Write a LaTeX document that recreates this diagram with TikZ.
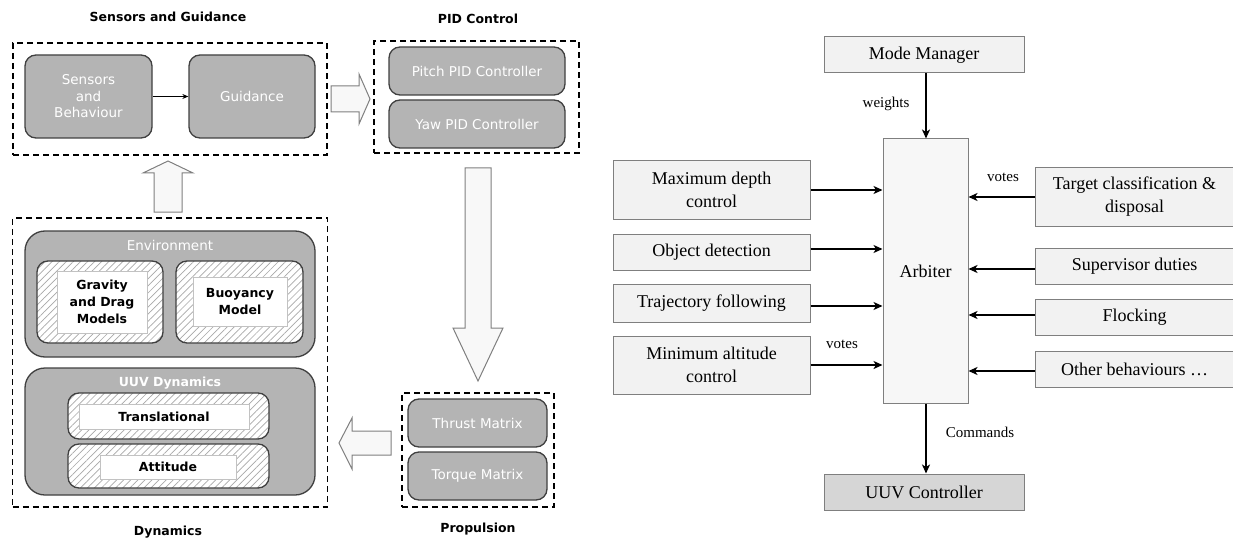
\documentclass[tikz,border=0pt]{standalone}
\usepackage{fontspec}
\setmainfont{Liberation Serif}
\newfontfamily\vsans{DejaVu Sans}
\usetikzlibrary{patterns.meta,arrows.meta}

\definecolor{boxgray}{HTML}{B4B4B4}
\definecolor{edgegray}{HTML}{404040}
\definecolor{paleface}{HTML}{F2F2F2}
\definecolor{arbface}{HTML}{F7F7F7}
\definecolor{ctrlface}{HTML}{D6D6D6}
\definecolor{rimgray}{HTML}{7F7F7F}
\definecolor{hatchgray}{HTML}{A8A8A8}
\definecolor{fatface}{HTML}{F8F8F8}

\begin{document}
\begin{tikzpicture}[x=1pt,y=-1pt,
  grp/.style={draw=black, line width=1.8pt, dash pattern=on 6pt off 4pt, inner sep=0},
  blk/.style={draw=edgegray, fill=boxgray, line width=1.3pt, rounded corners=11pt,
    text=white, font=\vsans\fontsize{13.5}{16.5}\selectfont, align=center, inner sep=0},
  panel/.style={blk, rounded corners=20pt},
  hatch/.style={draw=edgegray, line width=1.3pt, rounded corners=11pt, inner sep=0,
    preaction={fill=white},
    pattern={Lines[angle=45,distance=5pt,line width=0.7pt]}, pattern color=hatchgray},
  card/.style={draw=hatchgray!70, fill=white, line width=0.8pt, inner sep=0,
    font=\vsans\bfseries\fontsize{12.5}{17}\selectfont, align=center},
  ttl/.style={font=\vsans\bfseries\fontsize{12.5}{15}\selectfont},
  fat/.style={draw=rimgray, fill=fatface, line width=1pt, line join=miter},
  sbox/.style={draw=rimgray, fill=paleface, line width=1pt, inner sep=0,
    font=\fontsize{18}{23}\selectfont, align=center},
  flow/.style={-{Stealth[length=9pt,width=8pt,inset=2.5pt]}, line width=1.8pt},
  lbl/.style={font=\fontsize{15}{18}\selectfont}
]
\useasboundingbox (0,0) rectangle (1233,540);

% ---------------- simulation architecture ----------------
% Sensors and Guidance
\node[ttl] (tsg) at (168,17) {Sensors and Guidance};
\node[grp, minimum width=314pt, minimum height=112pt] (sg) at (170,99) {};
\node[blk, minimum width=127pt, minimum height=83pt] (snb) at (88.5,96.5) {Sensors\\and\\Behaviour};
\node[blk, minimum width=126pt, minimum height=83pt] (guid) at (252,96.5) {Guidance};
\draw[-{Stealth[length=6pt,width=5pt]}, line width=0.9pt] (snb) -- (guid);

% PID Control
\node[ttl] (tpid) at (478,19) {PID Control};
\node[grp, minimum width=205pt, minimum height=112pt] (pid) at (476.5,97) {};
\node[blk, minimum width=176pt, minimum height=48pt] (pitch) at (477,71) {Pitch PID Controller};
\node[blk, minimum width=176pt, minimum height=48pt] (yaw) at (477,124) {Yaw PID Controller};

% Propulsion
\node[grp, minimum width=152pt, minimum height=114pt] (prop) at (478,450) {};
\node[blk, minimum width=139pt, minimum height=48pt] (thrust) at (477.5,423) {Thrust Matrix};
\node[blk, minimum width=139pt, minimum height=48pt] (torque) at (477.5,476) {Torque Matrix};
\node[ttl] (tprop) at (478,529) {Propulsion};

% Dynamics
\node[grp, minimum width=315pt, minimum height=289pt] (dyn) at (170,362.5) {};
\node[ttl] (tdyn) at (168,532) {Dynamics};
\node[panel, minimum width=290pt, minimum height=126pt] (env) at (170,294) {};
\node[text=white, font=\vsans\fontsize{13.5}{16}\selectfont] (tenv) at (170,245) {Environment};
\node[hatch, minimum width=126pt, minimum height=82pt] (grav) at (100,302) {};
\node[card, minimum width=90pt, minimum height=62pt] (gravin) at (102,302) {Gravity\\and Drag\\Models};
\node[hatch, minimum width=127pt, minimum height=82pt] (buoy) at (239.5,302) {};
\node[card, minimum width=94pt, minimum height=49pt] (buoyin) at (240,301.5) {Buoyancy\\Model};

\node[panel, minimum width=290pt, minimum height=127pt] (uuvd) at (170,431.5) {};
\node[text=white, font=\vsans\bfseries\fontsize{12.5}{15}\selectfont] (tuuvd) at (170,383) {UUV Dynamics};
\node[hatch, minimum width=201pt, minimum height=46pt] (trans) at (168.5,416) {};
\node[card, minimum width=170pt, minimum height=25pt] (transin) at (164,416.5) {Translational};
\node[hatch, minimum width=201pt, minimum height=44pt] (att) at (168.5,466) {};
\node[card, minimum width=136pt, minimum height=24pt] (attin) at (168,467) {Attitude};

% block arrows between the stages
\draw[fat] (331,86) -- (359,86) -- (359,74) -- (370,99) -- (359,124) -- (359,112) -- (331,112) -- cycle;
\draw[fat] (465,168) -- (491,168) -- (491,328) -- (503,328) -- (478,381) -- (453,328) -- (465,328) -- cycle;
\draw[fat] (391,431) -- (352,431) -- (352,418) -- (339,443) -- (352,469) -- (352,455) -- (391,455) -- cycle;
\draw[fat] (154,212) -- (154,173) -- (143,173) -- (168,161) -- (193,173) -- (182,173) -- (182,212) -- cycle;

% ---------------- behaviour arbitration ----------------
\node[sbox, minimum width=200pt, minimum height=36pt] (mm) at (924,55) {Mode Manager};
\node[sbox, fill=arbface, minimum width=85pt, minimum height=264pt] (arb) at (925.5,271) {Arbiter};
\node[sbox, fill=ctrlface, minimum width=200pt, minimum height=36pt] (uuvc) at (924,492) {UUV Controller};

\node[sbox, minimum width=197pt, minimum height=58pt] (mdc) at (711.5,190) {Maximum depth\\control};
\node[sbox, minimum width=197pt, minimum height=36pt] (od) at (711.5,252) {Object detection};
\node[sbox, minimum width=197pt, minimum height=38pt] (tf) at (711.5,303) {Trajectory following};
\node[sbox, minimum width=197pt, minimum height=58pt] (mac) at (711.5,365) {Minimum altitude\\control};

\node[sbox, minimum width=199pt, minimum height=58pt] (tcd) at (1134.5,197) {Target classification \&\\disposal};
\node[sbox, minimum width=199pt, minimum height=36pt] (sd) at (1134.5,266) {Supervisor duties};
\node[sbox, minimum width=199pt, minimum height=36pt] (fl) at (1134.5,317) {Flocking};
\node[sbox, minimum width=199pt, minimum height=36pt] (ob) at (1134.5,369) {Other behaviours …};

\draw[flow] (mm.south -| 926,0) -- (arb.north -| 926,0);
\draw[flow] (arb.south -| 926,0) -- (uuvc.north -| 926,0);
\draw[flow] (mdc.east) -- (arb.west |- 0,190);
\draw[flow] (od.east) ++(0,-3) -- (arb.west |- 0,249);
\draw[flow] (tf.east) ++(0,3) -- (arb.west |- 0,306);
\draw[flow] (mac.east) -- (mac.east -| arb.west);
\draw[flow] (tcd.west) -- (tcd.west -| arb.east);
\draw[flow] (sd.west) ++(0,3) -- (arb.east |- 0,269);
\draw[flow] (fl.west) ++(0,-2) -- (arb.east |- 0,315);
\draw[flow] (ob.west) ++(0,2) -- (arb.east |- 0,371);

\node[lbl] (lw) at (886,104) {weights};
\node[lbl] (lv1) at (1003,177) {votes};
\node[lbl] (lv2) at (842,344) {votes};
\node[lbl] (lc) at (980,432) {Commands};
\end{tikzpicture}
\end{document}
